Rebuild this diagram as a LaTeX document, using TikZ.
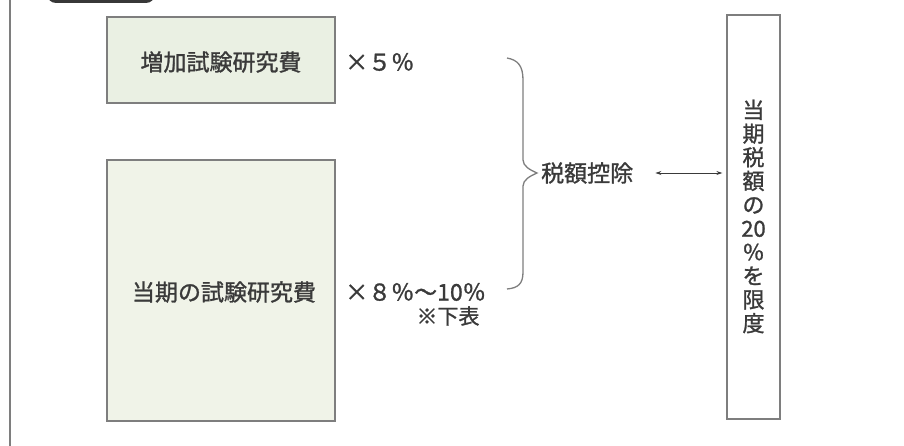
\documentclass[tikz,border=0pt]{standalone}
\usepackage{fontspec}
\setmainfont{Noto Sans CJK JP}[AutoFakeBold=1.2]
\usetikzlibrary{arrows.meta}
\definecolor{txt}{HTML}{3A3A3A}
\definecolor{edge}{HTML}{7E7E7E}
\definecolor{fillA}{HTML}{EAF0E3}
\definecolor{fillB}{HTML}{F0F3E8}
\tikzset{
  box/.style={draw=edge, line width=1.3pt, inner sep=0pt},
  lbl/.style={text=txt, inner sep=0pt, font=\fontsize{23}{26}\selectfont\bfseries},
}
\begin{document}
\begin{tikzpicture}[x=1pt,y=-1pt]
\useasboundingbox (0,0) rectangle (904,446);
\fill[white] (0,0) rectangle (904,446);
% frame and tab
\draw[edge, line width=1.2pt] (10,0) -- (10,446);
\begin{scope}
  \clip (0,0) rectangle (904,446);
  \fill[black!78, rounded corners=9pt] (47,-25) rectangle (155,3);
\end{scope}
% boxes
\node[box, fill=fillA, minimum width=228pt, minimum height=86pt] (b1) at (221,60) {};
\node[lbl] (t1) at (221,62) {増加試験研究費};
\node[box, fill=fillB, minimum width=228pt, minimum height=261pt] (b2) at (221,290.5) {};
\node[lbl] (t2) at (224,292) {当期の試験研究費};
\node[lbl, anchor=west] (r1) at (345,62) {×５％};
\node[lbl, anchor=west] (r2) at (345,292) {×８％〜10％};
\node[lbl, font=\fontsize{21}{24}\selectfont\bfseries] (note) at (448,316) {※下表};
% brace
\coordinate (bt) at (507,58);
\coordinate (bm) at (537,173);
\coordinate (bb) at (507,289);
\draw[edge, line width=1.3pt] (bt) .. controls (518,60) and (523,66) .. (523,80)
  -- (523,160) .. controls (523,166) and (530,170) .. (bm)
  .. controls (530,176) and (523,180) .. (523,186)
  -- (523,272) .. controls (523,284) and (518,288) .. (bb);
\node[lbl, anchor=west] (ded) at (541,173) {税額控除};
% vertical box
\node[box, minimum width=53pt, minimum height=404pt] (vb) at (753.5,217) {};
\node[lbl, align=center, font=\fontsize{22}{23.7}\selectfont\bfseries] (vt) at (753.5,216.5)
  {当\\期\\税\\額\\の\\20\\％\\を\\限\\度};
% arrow
\draw[txt, line width=0.9pt, {Stealth[length=6pt,width=4pt]}-{Stealth[length=6pt,width=4pt]}]
  ([xshift=22pt]ded.east) -- ([xshift=-4pt]ded.east -| vb.west);
\end{tikzpicture}
\end{document}
